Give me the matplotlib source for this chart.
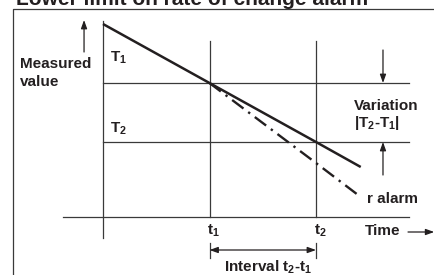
import matplotlib
matplotlib.use("Agg")
import matplotlib.pyplot as plt

plt.rcParams['font.family'] = ['Liberation Sans', 'DejaVu Sans']
plt.rcParams['mathtext.fontset'] = 'custom'
plt.rcParams['mathtext.rm'] = 'Liberation Sans:bold'
plt.rcParams['mathtext.it'] = 'Liberation Sans:bold'
plt.rcParams['mathtext.bf'] = 'Liberation Sans:bold'
plt.rcParams['mathtext.default'] = 'rm'

# ---- data (time units, value units) ----
time_marks = [1.0, 2.0]                 # t1, t2
time_labels = [r't$_1$', r't$_2$']
level_values = [134, 75]                # T1, T2
level_labels = [r'T$_1$', r'T$_2$']
measured_t = [0.0, 1.0, 2.0, 2.42]
measured_v = [193, 134, 75, 50]
alarm_t = [1.0, 2.0, 2.42]
alarm_v = [134, 54, 20]

TITLE = 'Lower limit on rate of change alarm'
INK = '#231f20'
GRID = '#3a3a3a'

fig = plt.figure(figsize=(4.35, 2.75), dpi=100)
ax = fig.add_axes([0, 0, 1, 1])
ax.set_xlim(-103 / 106.5, 332 / 106.5)
ax.set_ylim(-58, 217)
ax.axis('off')

fs = 11
tkw = dict(fontsize=fs, fontweight='bold', color=INK, va='baseline')

# frame (cropped box)
ax.plot([-0.845, -0.845, 3.3], [-70, 208, 208], color=GRID, lw=0.9, clip_on=False)
ax.text(-0.817, 212, TITLE, fontsize=15, fontweight='bold', color=INK, va='baseline')

# axes of the diagram
ax.plot([0, 0], [-21, 196], color=GRID, lw=0.9)
ax.plot([-0.376, 2.873], [0, 0], color=GRID, lw=0.9)
for v in level_values:
    ax.plot([0, 2.873], [v, v], color=GRID, lw=0.9)
for t in time_marks:
    ax.plot([t, t], [0, 176], color=GRID, lw=0.9)

# series
ax.plot(measured_t, measured_v, color=INK, lw=1.8, solid_capstyle='butt')
ax.plot(alarm_t, alarm_v, color=INK, lw=1.7, dashes=(6, 2.5, 1, 2.5))

akw = dict(arrowstyle='-|>,head_length=0.5,head_width=0.18', color=INK, lw=0.9,
           shrinkA=0, shrinkB=0)
# measured value arrow
ax.annotate('', xy=(-0.178, 197), xytext=(-0.178, 165), arrowprops=akw)
# variation arrows
ax.annotate('', xy=(2.629, 134), xytext=(2.629, 167), arrowprops=akw)
ax.annotate('', xy=(2.629, 75), xytext=(2.629, 42), arrowprops=akw)
# time arrow
ax.annotate('', xy=(3.11, -15), xytext=(2.864, -15), arrowprops=akw)
# interval arrow
ax.annotate('', xy=(1.0, -33), xytext=(2.0, -33),
            arrowprops=dict(arrowstyle='<|-|>,head_length=0.5,head_width=0.18',
                            color=INK, lw=0.9, shrinkA=0, shrinkB=0))
for t in time_marks:
    ax.plot([t, t], [-26, -41], color=GRID, lw=0.9)

# texts
ax.text(-0.779, 149, 'Measured', **tkw)
ax.text(-0.779, 131, 'value', **tkw)
ax.text(0.066, 155, level_labels[0], **tkw)
ax.text(0.066, 84, level_labels[1], **tkw)
ax.text(2.357, 107, 'Variation', **tkw)
ax.text(2.357, 90, r'|T$_2$-T$_1$|', **tkw)
ax.text(0.977, -18, time_labels[0], **tkw)
ax.text(1.981, -18, time_labels[1], **tkw)
ax.text(2.46, -18, 'Time', **tkw)
ax.text(2.479, 14, 'r alarm', **tkw)
ax.text(1.549, -55, r'Interval t$_2$-t$_1$', ha='center', fontsize=fs,
        fontweight='bold', color=INK, va='baseline')

fig.savefig('out.png', dpi=100)
